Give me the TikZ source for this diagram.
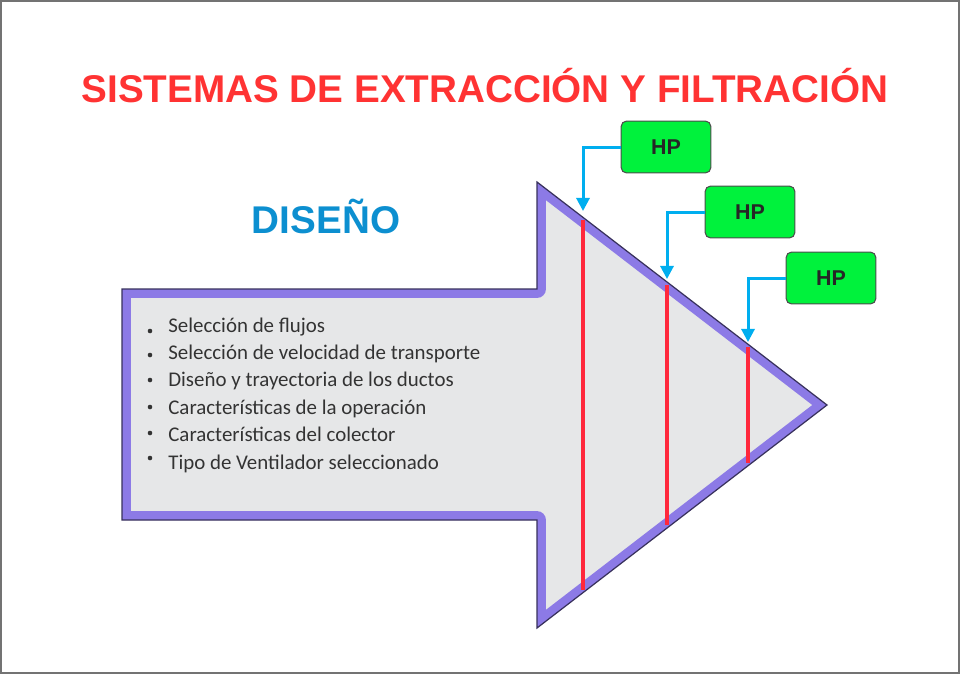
\documentclass[tikz,border=0pt]{standalone}
\usepackage{fontspec}
\setmainfont{Liberation Sans}
\newfontfamily\listfont{Carlito}
\usetikzlibrary{arrows.meta}
\definecolor{titlered}{RGB}{255,51,51}
\definecolor{designblue}{RGB}{12,143,208}
\definecolor{bandpurple}{RGB}{140,122,230}
\definecolor{shaftgray}{RGB}{230,231,232}
\definecolor{hpgreen}{RGB}{0,242,60}
\definecolor{feedcyan}{RGB}{0,174,239}
\definecolor{cutred}{RGB}{255,40,60}
\begin{document}
\begin{tikzpicture}[x=0.02cm,y=-0.02cm,
        hpbox/.style={draw=black!70, fill=hpgreen, rounded corners=3pt, line width=0.6pt,
            minimum width=90*0.567pt, minimum height=52*0.567pt, inner sep=0pt,
            font=\fontsize{12.2}{14}\selectfont\bfseries, text=black!85},
        feed/.style={draw=feedcyan, line width=1.7pt, -{Triangle[length=7.5pt,width=7.5pt]}},
        cut/.style={draw=cutred, line width=2.1pt},
        item/.style={anchor=base west, inner sep=0pt, font=\listfont\fontsize{11.9}{14}\selectfont, text=black!80}]
    \useasboundingbox (0,0) rectangle (960,674);
    \draw[black!55, line width=0.6pt] (1,1) rectangle (959,673);
    \node[anchor=base, inner sep=0pt, text=titlered, font=\fontsize{22}{26}\selectfont\bfseries] (title) at (485,102) {SISTEMAS DE EXTRACCIÓN Y FILTRACIÓN};
    \node[anchor=base, inner sep=0pt, text=designblue, font=\fontsize{22}{24}\selectfont\bfseries] (diseno) at (326,233) {DISEÑO};
    \coordinate (a1) at (122,289);
    \coordinate (a2) at (537,289);
    \coordinate (a3) at (537,182);
    \coordinate (a4) at (827,405);
    \coordinate (a5) at (537,628);
    \coordinate (a6) at (537,520);
    \coordinate (a7) at (122,520);
    \fill[shaftgray] (a1) -- (a2) -- (a3) -- (a4) -- (a5) -- (a6) -- (a7) -- cycle;
    \begin{scope}
        \clip (a1) -- (a2) -- (a3) -- (a4) -- (a5) -- (a6) -- (a7) -- cycle;
        \draw[bandpurple, line width=10.2pt, line join=round] (a1) -- (a2) -- (a3) -- (a4) -- (a5) -- (a6) -- (a7) -- cycle;
    \end{scope}
    \draw[cut] (583,220) -- (583,590);
    \draw[cut] (667,285) -- (667,525);
    \draw[cut] (748,347) -- (748,463);
    \draw[black!60!bandpurple, line width=0.7pt] (a1) -- (a2) -- (a3) -- (a4) -- (a5) -- (a6) -- (a7) -- cycle;
    \foreach \t/\b [count=\i] in {Selección de flujos/331, Selección de velocidad de transporte/355,
            Diseño y trayectoria de los ductos/380, Características de la operación/407,
            Características del colector/433, Tipo de Ventilador seleccionado/458} {
        \fill[black!80] (150,\b) circle (2.3);
        \node[item] (l\i) at (168,{332+27.4*(\i-1)}) {\t};
    }
    \node[hpbox] (hp1) at (666,147) {HP};
    \node[hpbox] (hp2) at (750,212) {HP};
    \node[hpbox] (hp3) at (831,278) {HP};
    \coordinate (p1) at (583,211);
    \coordinate (p2) at (667,279);
    \coordinate (p3) at (748,342);
    \draw[feed] (hp1.west) -| (p1);
    \draw[feed] (hp2.west) -| (p2);
    \draw[feed] (hp3.west) -| (p3);
\end{tikzpicture}
\end{document}
